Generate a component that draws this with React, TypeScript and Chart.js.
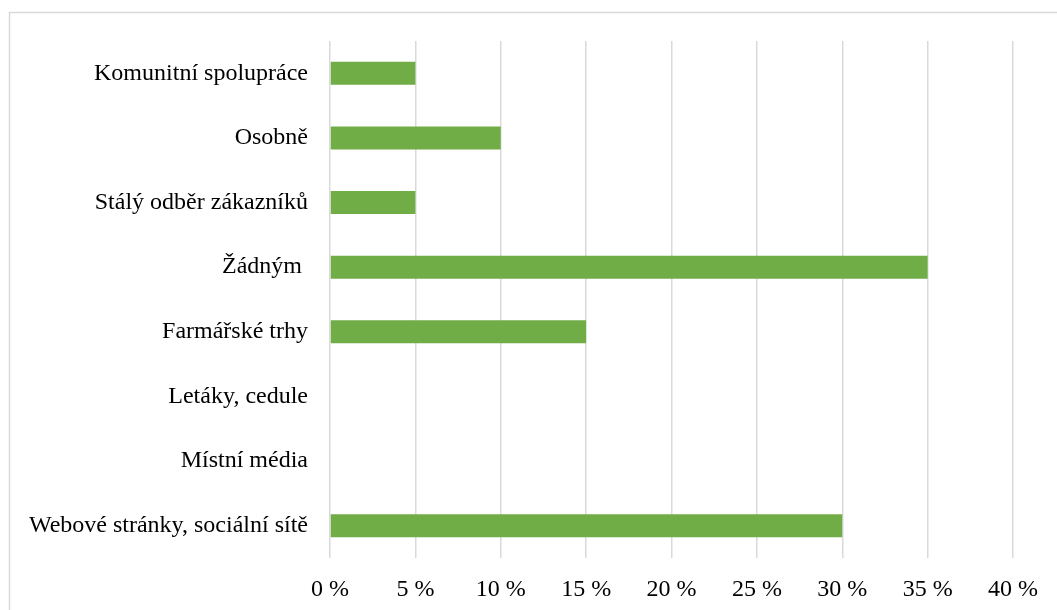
import React, { useEffect, useRef } from "react";
import { Chart, registerables } from "chart.js";

Chart.register(...registerables);

const categories = [
  "Komunitní spolupráce",
  "Osobně",
  "Stálý odběr zákazníků",
  "Žádným ",
  "Farmářské trhy",
  "Letáky, cedule",
  "Místní média",
  "Webové stránky, sociální sítě",
];
const values = [5, 10, 5, 35, 15, 0, 0, 30];
const xTicks = [0, 5, 10, 15, 20, 25, 30, 35, 40];

const FONT = "'Liberation Serif', 'Times New Roman', serif";

const borderPlugin = {
  id: "outerBorder",
  beforeDraw(chart: any) {
    const ctx = chart.ctx;
    ctx.save();
    ctx.fillStyle = "#ffffff";
    ctx.fillRect(0, 0, chart.width, chart.height);
    ctx.strokeStyle = "#d9d9d9";
    ctx.lineWidth = 1.5;
    ctx.beginPath();
    ctx.moveTo(9.5, chart.height + 5);
    ctx.lineTo(9.5, 12.5);
    ctx.lineTo(chart.width + 5, 12.5);
    ctx.stroke();
    ctx.restore();
  },
};

export default function App() {
  const ref = useRef<HTMLCanvasElement>(null);

  useEffect(() => {
    if (!ref.current) return;
    const chart = new Chart(ref.current, {
      type: "bar",
      data: {
        labels: categories,
        datasets: [
          {
            data: values,
            backgroundColor: "#70AD47",
            borderWidth: 0,
            barPercentage: 0.356,
            categoryPercentage: 1,
          },
        ],
      },
      options: {
        indexAxis: "y",
        animation: false,
        responsive: false,
        maintainAspectRatio: false,
        layout: { padding: { left: 0, top: 41, right: 44, bottom: 0 } },
        plugins: {
          legend: { display: false },
          tooltip: { enabled: false },
        },
        scales: {
          x: {
            min: 0,
            max: 40,
            afterBuildTicks(scale: any) {
              scale.ticks = xTicks.map((v) => ({ value: v }));
            },
            afterFit(scale: any) {
              scale.height = 52;
            },
            grid: {
              color: "#d9d9d9",
              lineWidth: 1.5,
              drawTicks: false,
            },
            border: { display: false },
            ticks: {
              padding: 17,
              color: "#000000",
              font: { family: FONT, size: 24 },
              callback: (v: any) => `${v} %`,
            },
          },
          y: {
            afterFit(scale: any) {
              scale.width = 330;
            },
            grid: { display: false, drawTicks: false },
            border: { display: false },
            ticks: {
              padding: 22,
              color: "#000000",
              font: { family: FONT, size: 24 },
            },
          },
        },
      },
      plugins: [borderPlugin],
    });
    return () => chart.destroy();
  }, []);

  return (
    <div style={{ position: "fixed", left: 0, top: 0, width: 1057, height: 610, background: "#fff" }}>
      <canvas ref={ref} width={1057} height={610} style={{ display: "block" }} />
    </div>
  );
}
